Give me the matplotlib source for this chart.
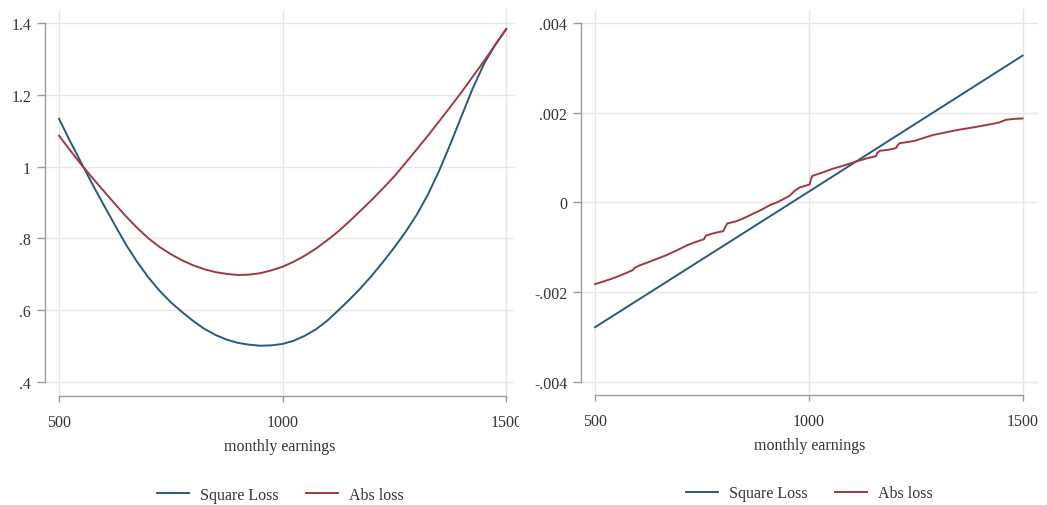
import numpy as np
import matplotlib as mpl
mpl.use("Agg")
from matplotlib import pyplot as plt
from matplotlib.patches import Rectangle

# 左图：两种损失函数随月收入的变化
earn_left = [500, 525, 550, 575, 600, 625, 650, 675, 700, 725, 750, 775, 800, 825, 850,
             875, 900, 925, 950, 975, 1000, 1025, 1050, 1075, 1100, 1125, 1150, 1175,
             1200, 1225, 1250, 1275, 1300, 1325, 1350, 1375, 1400, 1425, 1450, 1475, 1500]
square_left = [1.133, 1.070, 1.010, 0.950, 0.893, 0.837, 0.782, 0.734, 0.691, 0.654, 0.622,
               0.595, 0.570, 0.548, 0.531, 0.518, 0.509, 0.504, 0.501, 0.502, 0.506, 0.515,
               0.529, 0.547, 0.571, 0.600, 0.630, 0.662, 0.697, 0.735, 0.775, 0.818, 0.866,
               0.922, 0.988, 1.062, 1.140, 1.217, 1.285, 1.338, 1.383]
abs_left = [1.086, 1.045, 1.005, 0.968, 0.932, 0.896, 0.861, 0.829, 0.800, 0.776, 0.756,
            0.739, 0.725, 0.714, 0.706, 0.701, 0.698, 0.699, 0.703, 0.711, 0.721, 0.735,
            0.752, 0.772, 0.795, 0.820, 0.848, 0.878, 0.908, 0.940, 0.973, 1.010, 1.048,
            1.086, 1.126, 1.166, 1.207, 1.250, 1.293, 1.338, 1.383]

# 右图：导数（斜率）
earn_sq_right = [500, 1000, 1500]
square_right = [-0.00278, 0.00024, 0.00327]
earn_abs_right = [500, 520, 545, 566, 588, 592, 605, 625, 644, 668, 691, 714, 730, 745, 755, 759,
                  780, 800, 804, 809, 830, 846, 870, 890, 909, 925, 940, 955, 967, 978, 1002,
                  1005, 1008, 1030, 1056, 1085, 1110, 1135, 1157, 1160, 1166, 1185, 1204, 1208,
                  1213, 1235, 1251, 1270, 1290, 1320, 1352, 1390, 1430, 1445, 1461, 1480, 1500]
abs_right = [-0.00182, -0.00176, -0.00168, -0.00160, -0.00151, -0.00146, -0.00140, -0.00133,
             -0.00126, -0.00117, -0.00107, -0.00096, -0.00090, -0.00085, -0.00082, -0.00074,
             -0.00068, -0.00064, -0.00056, -0.00047, -0.00042, -0.00036, -0.00025, -0.00016,
             -0.00006, 0.00000, 0.00007, 0.00015, 0.00026, 0.00033, 0.00040, 0.00052,
             0.00059, 0.00066, 0.00075, 0.00083, 0.00091, 0.00098, 0.00103, 0.00110,
             0.00115, 0.00117, 0.00121, 0.00128, 0.00132, 0.00135, 0.00138, 0.00144,
             0.00150, 0.00156, 0.00162, 0.00168, 0.00175, 0.00178, 0.00184, 0.00186, 0.00187]

left_yticks = [0.4, 0.6, 0.8, 1.0, 1.2, 1.4]
left_ylabels = ['.4', '.6', '.8', '1', '1.2', '1.4']
right_yticks = [-0.004, -0.002, 0, 0.002, 0.004]
right_ylabels = ['-.004', '-.002', '0', '.002', '.004']
xticks = [500, 1000, 1500]

blue = '#2a5980'
red = '#a03a41'
plt.rcParams['font.family'] = ['Liberation Serif', 'DejaVu Serif']

fig = plt.figure(figsize=(10.47, 5.06), dpi=100)
ax1 = fig.add_axes([0.043, 0.2154, 0.449, 0.765])
ax2 = fig.add_axes([0.555, 0.2174, 0.436, 0.763])


def style(ax, yticks, ylabels, ylim, xlim):
    ax.set_xlim(*xlim)
    ax.set_ylim(*ylim)
    ax.set_xticks(xticks)
    ax.set_xticklabels([str(t) for t in xticks])
    ax.set_yticks(yticks)
    ax.set_yticklabels(ylabels)
    ax.grid(True, color='#e6e6e6', linewidth=1.0)
    ax.set_axisbelow(True)
    for s in ['top', 'right']:
        ax.spines[s].set_visible(False)
    ax.spines['left'].set_bounds(yticks[0], yticks[-1])
    ax.spines['bottom'].set_bounds(xticks[0], xticks[-1])
    for s in ['left', 'bottom']:
        ax.spines[s].set_color('#999999')
        ax.spines[s].set_linewidth(1.0)
    ax.tick_params(axis='y', length=6, width=1, color='#999999', pad=4,
                   labelsize=11.5, labelcolor='#333333')
    ax.tick_params(axis='x', length=4, width=1, color='#999999', pad=9,
                   labelsize=11.5, labelcolor='#333333')
    ax.set_xlabel('monthly earnings', fontsize=11.5, color='#333333')
    ax.xaxis.set_label_coords(0.5, -0.13)
    ax.xaxis.label.set_va('center')


ax1.plot(earn_left, square_left, color=blue, linewidth=1.4, label='Square Loss')
ax1.plot(earn_left, abs_left, color=red, linewidth=1.4, label='Abs loss')
style(ax1, left_yticks, left_ylabels, (0.361, 1.439), (468.7, 1520))

ax2.plot(earn_sq_right, square_right, color=blue, linewidth=1.4, label='Square Loss')
ax2.plot(earn_abs_right, abs_right, color=red, linewidth=1.4, label='Abs loss')
style(ax2, right_yticks, right_ylabels, (-0.00429, 0.00431), (467.3, 1535))

# 左图 1500 标签被右图区域截断
fig.patches.append(Rectangle((0.4957, 0.14), 0.04, 0.06, transform=fig.transFigure,
                             facecolor='white', edgecolor='none', zorder=5))

for ax in (ax1, ax2):
    ax.legend(loc='center', bbox_to_anchor=(0.5, -0.255), ncol=2, frameon=False,
              fontsize=11.5, handlelength=2.0, handletextpad=0.7, columnspacing=1.7,
              labelcolor='#333333')

fig.savefig('out.png', dpi=100)
